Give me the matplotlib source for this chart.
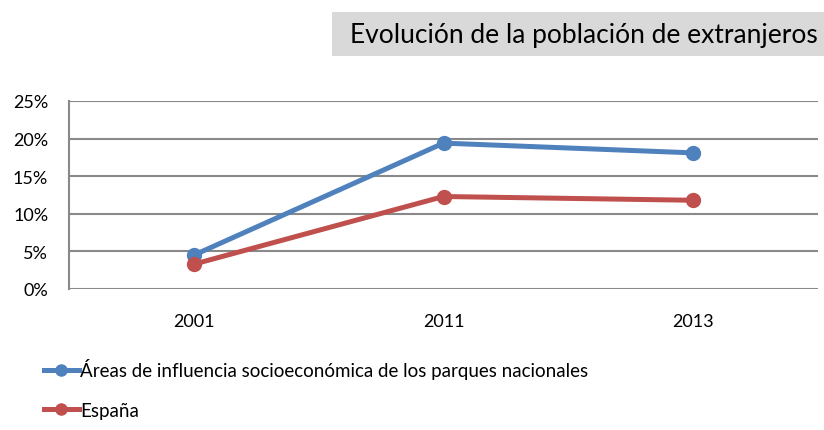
import matplotlib.pyplot as plt
from matplotlib.patches import Rectangle
from matplotlib.ticker import PercentFormatter

years = ["2001", "2011", "2013"]
areas = [4.5, 19.4, 18.1]
espana = [3.3, 12.3, 11.8]
yticks = [0, 5, 10, 15, 20, 25]

plt.rcParams["font.family"] = ["Lato", "DejaVu Sans"]

W, H = 824, 431
fig = plt.figure(figsize=(W / 100, H / 100), dpi=100)
ax = fig.add_axes([69 / W, 1 - 290 / H, 749 / W, 188 / H])

x = range(len(years))
ax.plot(x, areas, color="#4F81BD", lw=3.6, marker="o", ms=10,
        label="Áreas de influencia socioeconómica de los parques nacionales")
ax.plot(x, espana, color="#C0504D", lw=3.6, marker="o", ms=10, label="España")

ax.set_xlim(-0.5, len(years) - 0.5)
ax.set_ylim(0, 25)
ax.set_yticks(yticks)
ax.yaxis.set_major_formatter(PercentFormatter(decimals=0))
ax.set_xticks(list(x))
ax.set_xticklabels(years)
ax.tick_params(axis="y", length=0, labelsize=13, pad=15)
ax.tick_params(axis="x", length=0, labelsize=13, pad=17)
ax.grid(axis="y", color="#898989", lw=1.5)
ax.set_axisbelow(True)
for s in ["top", "right", "bottom"]:
    ax.spines[s].set_visible(False)
ax.spines["left"].set_color("#898989")
ax.spines["left"].set_linewidth(1.5)

# title in a grey box
fig.patches.append(Rectangle((332 / W, 1 - 57 / H), (W - 332) / W, 44 / H,
                             transform=fig.transFigure, fc="#D9D9D9", ec="none"))
fig.text(818 / W, 1 - 36 / H, "Evolución de la población de extranjeros",
         ha="right", va="center", fontsize=19)

fig.legend(loc="upper left", bbox_to_anchor=(36 / W, 1 - 352 / H),
           frameon=False, fontsize=13.5, handlelength=1.9, handletextpad=0.05,
           labelspacing=1.2, borderaxespad=0, markerscale=0.8)

fig.savefig("out.png")
